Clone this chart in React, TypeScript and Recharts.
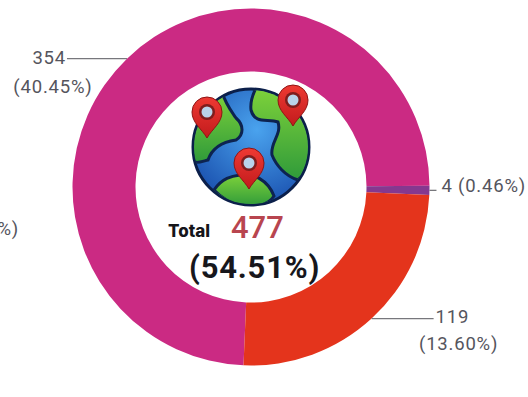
import React from 'react';
import { PieChart, Pie, Cell } from 'recharts';

const regions = ['Region A', 'Region B', 'Region C'];
const counts = [354, 4, 119];
const shares = ['40.45%', '0.46%', '13.60%'];
const colors = ['#cb2a83', '#85388f', '#e4341c'];

const totalCount = 477;
const totalShare = '54.51%';
const hiddenShare = '45.49%';

const data = regions.map((name, i) => ({ name, value: counts[i], share: shares[i] }));

const FONT = 'Roboto, sans-serif';
const LABEL_COLOR = '#55555d';
const RAD = Math.PI / 180;

const labelStyle = { fontFamily: FONT, fontSize: 18.5, fill: LABEL_COLOR, letterSpacing: 0.8 };

// leader length and text offsets for each slice label
const labelSpots = [
  { dx: -60, first: -1, second: -14, secondY: 29 },
  { dx: 7, first: 5, second: 0, secondY: 0 },
  { dx: 62, first: 2, second: 25, secondY: 27 },
];

const SliceLabel = (props: any) => {
  const { cx, cy, midAngle, outerRadius, index } = props;
  const spot = labelSpots[index];
  const x = cx + outerRadius * Math.cos(midAngle * RAD);
  const y = cy - outerRadius * Math.sin(midAngle * RAD);
  const endX = x + spot.dx;
  return (
    <g>
      <line x1={x} y1={y} x2={endX} y2={y} stroke="#77777c" strokeWidth={1.3} />
      {index === 1 ? (
        <text x={endX + spot.first} y={y} dy={-3} dominantBaseline="middle" style={labelStyle}>
          {`${counts[index]} (${shares[index]})`}
        </text>
      ) : (
        <>
          <text
            x={endX + spot.first}
            y={y}
            textAnchor={index === 0 ? 'end' : 'start'}
            dominantBaseline="middle"
            style={labelStyle}
          >
            {counts[index]}
          </text>
          <text x={endX + spot.second} y={y + spot.secondY} textAnchor="middle" dominantBaseline="middle" style={labelStyle}>
            {`(${shares[index]})`}
          </text>
        </>
      )}
    </g>
  );
};

const Pin = ({ x, y }: { x: number; y: number }) => (
  <g transform={`translate(${x} ${y})`}>
    <path d="M0 24 C-5 15 -15 9 -15 -2 A15 15 0 1 1 15 -2 C15 9 5 15 0 24 Z" fill="url(#pinRed)" stroke="#8e1414" strokeWidth={1} />
    <circle cx={0} cy={-2} r={8} fill="#7f1d1d" />
    <circle cx={0} cy={-2} r={5.5} fill="#b9d3ea" />
  </g>
);

// globe with three map pins in the hole of the ring
const Globe = () => (
  <g>
    <defs>
      <radialGradient id="sea" cx="0.55" cy="0.35" r="0.75">
        <stop offset="0" stopColor="#4aa3ee" />
        <stop offset="1" stopColor="#1548a8" />
      </radialGradient>
      <linearGradient id="land" x1="0" y1="0" x2="0" y2="1">
        <stop offset="0" stopColor="#7ed23a" />
        <stop offset="1" stopColor="#2f9a3a" />
      </linearGradient>
      <linearGradient id="pinRed" x1="0" y1="0" x2="0" y2="1">
        <stop offset="0" stopColor="#ee3a33" />
        <stop offset="1" stopColor="#c21a1c" />
      </linearGradient>
      <clipPath id="globeClip">
        <circle cx={251} cy={147} r={57} />
      </clipPath>
    </defs>
    <circle cx={251} cy={147} r={58} fill="url(#sea)" stroke="#0b1f4a" strokeWidth={3} />
    <g clipPath="url(#globeClip)" fill="url(#land)" stroke="#0d2350" strokeWidth={3}>
      <path d="M222 92 C226 105 232 112 236 118 C244 125 244 135 236 140 C222 142 212 148 208 160 C200 162 194 165 190 158 C186 130 200 100 222 92 Z" />
      <path d="M256 88 C275 86 300 100 312 130 C314 150 310 170 298 180 C285 176 276 165 272 155 C270 142 282 135 278 122 C268 118 255 125 251 110 C250 102 252 96 256 88 Z" />
      <path d="M214 190 C222 178 232 176 240 175 C252 172 268 180 274 196 C265 210 235 212 214 190 Z" />
    </g>
    <Pin x={207} y={114} />
    <Pin x={293} y={102} />
    <Pin x={249} y={165} />
  </g>
);

const App = () => (
  <div style={{ position: 'absolute', left: 0, top: 0, width: 528, height: 397, background: '#fff', overflow: 'hidden' }}>
    <PieChart width={528} height={397} margin={{ top: 0, right: 0, bottom: 0, left: 0 }}>
      <Pie
        data={data}
        dataKey="value"
        nameKey="name"
        cx={251}
        cy={187}
        innerRadius={115.5}
        outerRadius={178.5}
        startAngle={267.6}
        endAngle={-92.4}
        paddingAngle={0}
        stroke="none"
        isAnimationActive={false}
        labelLine={false}
        label={SliceLabel}
      >
        {data.map((entry, index) => (
          <Cell key={entry.name} fill={colors[index]} />
        ))}
      </Pie>
      <Globe />
      <text x={19} y={230} textAnchor="end" dominantBaseline="middle" style={labelStyle}>
        {`(${hiddenShare})`}
      </text>
      <text x={168} y={232} dominantBaseline="middle" style={{ fontFamily: 'Inter, sans-serif', fontWeight: 800, fontSize: 17, fill: '#15151a' }}>
        Total
      </text>
      <text x={231} y={230} dominantBaseline="middle" style={{ fontFamily: FONT, fontWeight: 500, fontSize: 31, fill: '#b8454f' }}>
        {totalCount}
      </text>
      <text x={189} y={270} dominantBaseline="middle" style={{ fontFamily: FONT, fontWeight: 700, fontSize: 31, fill: '#17171c', letterSpacing: 0.8 }}>
        {`(${totalShare})`}
      </text>
    </PieChart>
  </div>
);

export default App;
